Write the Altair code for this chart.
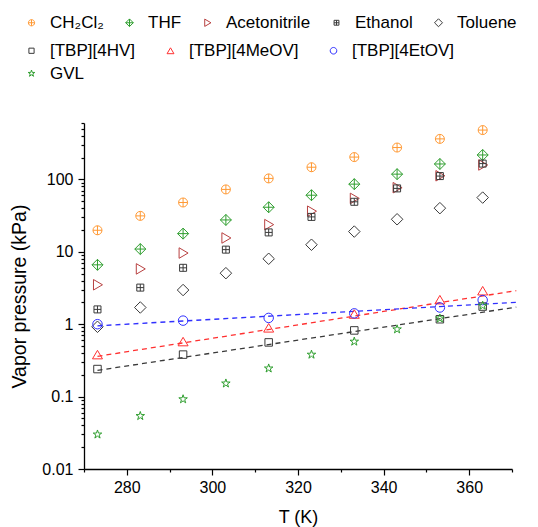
import altair as alt
import pandas as pd

# ---------------- data ----------------
T_all = [273.15, 283.15, 293.15, 303.15, 313.15, 323.15, 333.15, 343.15, 353.15, 363.15]
solvent_names = ["CH₂Cl₂", "THF", "Acetonitrile", "Ethanol", "Toluene"]
ch2cl2 = [19.8, 31.3, 47.9, 72.6, 103, 147, 203, 275, 362, 479]
thf = [6.6, 10.9, 17.8, 27.5, 41.2, 60.4, 85.9, 118, 163, 217]
acetonitrile = [3.5, 5.8, 9.6, 15.5, 23.7, 36.3, 54.6, 76.7, 112, 158]
ethanol = [1.6, 3.2, 6.0, 10.7, 18.5, 30.3, 49, 75, 111, 165]
toluene = [0.92, 1.7, 2.96, 5.06, 8.0, 12.5, 19, 28.1, 40, 56]

T_il = [273.15, 293.15, 313.15, 333.15, 353.15, 363.15]
il_names = ["[TBP][4HV]", "[TBP][4MeOV]", "[TBP][4EtOV]"]
tbp_4hv = [0.24, 0.38, 0.56, 0.82, 1.17, 1.75]
tbp_4meov = [0.38, 0.575, 0.89, 1.38, 2.18, 2.9]
tbp_4etov = [1.0, 1.12, 1.22, 1.41, 1.70, 2.15]

# fitted (dashed) lines: end points
T_fit = [273.15, 371.0]
fit_4hv = [0.23, 1.72]
fit_4meov = [0.36, 2.9]
fit_4etov = [0.95, 2.0]

gvl_names = ["GVL"]
gvl = [0.030, 0.054, 0.092, 0.152, 0.245, 0.38, 0.575, 0.85, 1.2, 1.8]

# ---------------- styles ----------------
FONT = "Liberation Sans"
P_CIRCLE_PLUS = "M-0.9,0A0.9,0.9 0 1,0 0.9,0A0.9,0.9 0 1,0 -0.9,0ZM-0.9,0L0.9,0M0,-0.9L0,0.9"
P_DIAMOND_PLUS = "M0,-1.1L1.1,0L0,1.1L-1.1,0ZM-1.1,0L1.1,0M0,-1.1L0,1.1"
P_TRI_RIGHT = "M-0.8,-1.05L1,0L-0.8,1.05Z"
P_SQUARE_GRID = "M-0.7,-0.7L0.7,-0.7L0.7,0.7L-0.7,0.7ZM-0.7,0L0.7,0M0,-0.7L0,0.7"
P_DIAMOND = "M0,-1.15L1.15,0L0,1.15L-1.15,0Z"
P_SQUARE = "M-0.75,-0.75L0.75,-0.75L0.75,0.75L-0.75,0.75Z"
P_TRI_UP = "M0,-0.85L1,0.85L-1,0.85Z"
P_CIRCLE = "M-0.95,0A0.95,0.95 0 1,0 0.95,0A0.95,0.95 0 1,0 -0.95,0Z"
P_STAR = ("M0,-1L0.2245,-0.309L0.951,-0.309L0.363,0.118L0.588,0.809L0,0.382"
          "L-0.588,0.809L-0.363,0.118L-0.951,-0.309L-0.2245,-0.309Z")

solvent_colors = ["#FF9933", "#2E9E2E", "#B84040", "#3A3A3A", "#3A3A3A"]
solvent_shapes = [P_CIRCLE_PLUS, P_DIAMOND_PLUS, P_TRI_RIGHT, P_SQUARE_GRID, P_DIAMOND]
il_colors = ["#3A3A3A", "#FF3030", "#3030FF"]
il_shapes = [P_SQUARE, P_TRI_UP, P_CIRCLE]
gvl_colors = ["#2E9E2E"]
gvl_shapes = [P_STAR]

# ---------------- tables ----------------
solv_df = pd.DataFrame({
    "T": T_all * 5,
    "P": ch2cl2 + thf + acetonitrile + ethanol + toluene,
    "name": sum([[n] * len(T_all) for n in solvent_names], []),
})
il_df = pd.DataFrame({
    "T": T_il * 3,
    "P": tbp_4hv + tbp_4meov + tbp_4etov,
    "name": sum([[n] * len(T_il) for n in il_names], []),
})
fit_df = pd.DataFrame({
    "T": T_fit * 3,
    "P": fit_4hv + fit_4meov + fit_4etov,
    "name": sum([[n] * len(T_fit) for n in il_names], []),
})
gvl_df = pd.DataFrame({"T": T_all, "P": gvl, "name": gvl_names * len(T_all)})

# ---------------- axes ----------------
x_vals = list(range(270, 371, 10))
y_vals = []
for d in [0.01, 0.1, 1, 10]:
    y_vals += [round(k * d, 6) for k in range(1, 10)]
y_vals += [100, 200, 300, 400, 500, 600]

x_enc = alt.X(
    "T:Q",
    scale=alt.Scale(domain=[270, 370], nice=False, zero=False),
    axis=alt.Axis(
        values=x_vals,
        labelExpr="datum.value % 20 == 0 ? datum.label : ''",
        tickSize={"condition": {"test": "datum.value % 20 == 0", "value": 6}, "value": 3},
        title="T (K)",
        titleFontSize=18,
        grid=False,
        labelOverlap=False,
        labelFlush=False,
        labelPadding=4,
        titlePadding=13,
        format="d",
    ),
)
major_test = "abs(log(datum.value)/LN10 - round(log(datum.value)/LN10)) < 0.000001"
y_enc = alt.Y(
    "P:Q",
    scale=alt.Scale(type="log", domain=[0.01, 600], nice=False),
    axis=alt.Axis(
        values=y_vals,
        labelExpr=f"({major_test}) ? format(datum.value, '~g') : ''",
        tickSize={"condition": {"test": major_test, "value": 6}, "value": 3},
        title="Vapor pressure (kPa)",
        titleFontSize=19.5,
        grid=False,
        labelOverlap=False,
        labelFlush=False,
        labelPadding=5,
        titlePadding=12,
    ),
)


def legend(x, y, pad):
    return alt.Legend(
        orient="none", legendX=x, legendY=y, direction="horizontal", title=None,
        labelFont=FONT, labelFontSize=17, labelColor="black", labelOffset=10,
        columnPadding=pad, padding=0, symbolSize=48, symbolStrokeWidth=1,
        labelLimit=300,
    )


solv = alt.Chart(solv_df).mark_point(filled=False, strokeWidth=1, opacity=1, size=100).encode(
    x=x_enc, y=y_enc,
    color=alt.Color("name:N", scale=alt.Scale(domain=solvent_names, range=solvent_colors),
                    legend=legend(-61, -109, 17)),
    shape=alt.Shape("name:N", scale=alt.Scale(domain=solvent_names, range=solvent_shapes),
                    legend=legend(-61, -109, 17)),
)

lines = alt.Chart(fit_df).mark_line(strokeDash=[5, 4], strokeWidth=1.3).encode(
    x=x_enc, y=y_enc,
    stroke=alt.Stroke("name:N", scale=alt.Scale(domain=il_names, range=il_colors), legend=None),
    detail="name:N",
)
il_pts = alt.Chart(il_df).mark_point(filled=False, strokeWidth=1, opacity=1, size=100).encode(
    x=x_enc, y=y_enc,
    color=alt.Color("name:N", scale=alt.Scale(domain=il_names, range=il_colors),
                    legend=legend(-61, -81, 26)),
    shape=alt.Shape("name:N", scale=alt.Scale(domain=il_names, range=il_shapes),
                    legend=legend(-61, -81, 26)),
)
il = alt.layer(lines, il_pts)

gvl_pts = alt.Chart(gvl_df).mark_point(filled=False, strokeWidth=1, opacity=1, size=80).encode(
    x=x_enc, y=y_enc,
    color=alt.Color("name:N", scale=alt.Scale(domain=gvl_names, range=gvl_colors),
                    legend=legend(-61, -58, 17)),
    shape=alt.Shape("name:N", scale=alt.Scale(domain=gvl_names, range=gvl_shapes),
                    legend=legend(-61, -58, 17)),
)

chart = alt.layer(solv, il, gvl_pts).resolve_scale(
    color="independent", shape="independent"
).properties(
    width=428, height=346,
    autosize=alt.AutoSizeParams(type="none"),
    padding={"left": 76, "top": 115, "right": 10, "bottom": 62},
).configure_view(stroke=None).configure_axis(
    domainColor="black", domainWidth=1.3, tickColor="black", tickWidth=1.2,
    labelFont=FONT, labelFontSize=16, labelColor="black",
    titleFont=FONT, titleColor="black", titleFontWeight="normal",
)

chart.save("out.html", embed_options={"renderer": "svg", "actions": False})
